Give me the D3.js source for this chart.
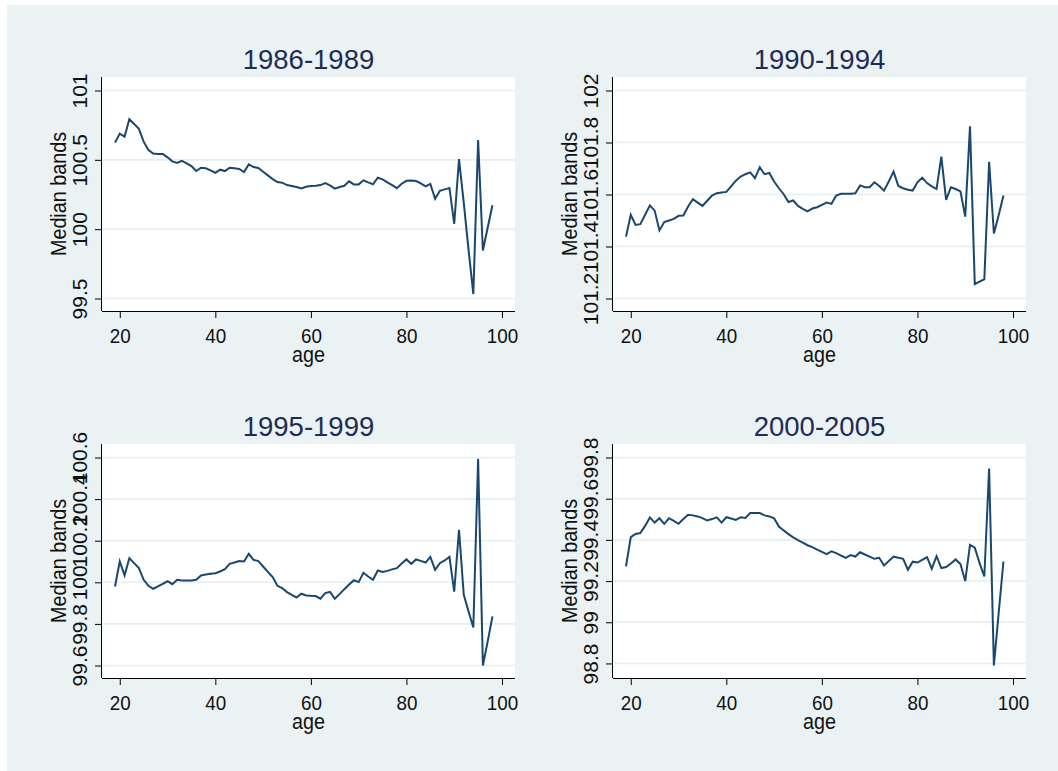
<!DOCTYPE html>
<html>
<head>
<meta charset="utf-8">
<script src="https://cdn.jsdelivr.net/npm/d3@7"></script>
<style>
    body { margin: 0; background: #fff; }
    svg { display: block; font-family: "Liberation Sans", Arial, sans-serif; }
</style>
</head>
<body>
<svg id="chart" width="1058" height="771"></svg>
<script>
/**
 * Data.
 */
const ages = d3.range(19, 99);

const periods = ['1986-1989', '1990-1994', '1995-1999', '2000-2005'];

const median1986 = [
    100.624, 100.689, 100.667, 100.793, 100.759, 100.723, 100.631, 100.571, 100.545, 100.542,
    100.542, 100.518, 100.489, 100.477, 100.492, 100.475, 100.455, 100.419, 100.443, 100.439,
    100.424, 100.407, 100.429, 100.419, 100.443, 100.439, 100.434, 100.412, 100.467, 100.448,
    100.441, 100.414, 100.388, 100.361, 100.340, 100.335, 100.318, 100.311, 100.304, 100.294,
    100.306, 100.311, 100.313, 100.318, 100.333, 100.316, 100.292, 100.304, 100.313, 100.345,
    100.323, 100.323, 100.352, 100.337, 100.323, 100.371, 100.359, 100.337, 100.318, 100.296,
    100.328, 100.349, 100.351, 100.347, 100.330, 100.308, 100.326, 100.219, 100.277, 100.287,
    100.297, 100.039, 100.505, 100.190, 99.850, 99.532, 100.643, 99.846, 100.010, 100.172
];

const median1990 = [
    101.438, 101.522, 101.483, 101.486, 101.522, 101.558, 101.538, 101.462, 101.494, 101.500,
    101.506, 101.518, 101.519, 101.554, 101.582, 101.569, 101.556, 101.576, 101.596, 101.605,
    101.608, 101.610, 101.631, 101.653, 101.669, 101.678, 101.685, 101.663, 101.705, 101.678,
    101.683, 101.650, 101.624, 101.601, 101.571, 101.577, 101.556, 101.545, 101.535, 101.546,
    101.551, 101.560, 101.569, 101.564, 101.596, 101.603, 101.603, 101.603, 101.605, 101.635,
    101.628, 101.628, 101.647, 101.633, 101.615, 101.650, 101.688, 101.633, 101.624, 101.618,
    101.615, 101.647, 101.665, 101.644, 101.631, 101.621, 101.746, 101.579, 101.628, 101.621,
    101.612, 101.515, 101.862, 101.255, 101.265, 101.274, 101.726, 101.450, 101.520, 101.596
];

const median1995 = [
    99.980, 100.100, 100.033, 100.116, 100.092, 100.068, 100.012, 99.983, 99.969, 99.980,
    99.993, 100.005, 99.991, 100.012, 100.009, 100.009, 100.009, 100.012, 100.033, 100.037,
    100.041, 100.044, 100.052, 100.063, 100.089, 100.095, 100.102, 100.100, 100.137, 100.108,
    100.102, 100.076, 100.050, 100.025, 99.983, 99.972, 99.953, 99.940, 99.927, 99.945,
    99.937, 99.935, 99.934, 99.921, 99.948, 99.954, 99.921, 99.943, 99.967, 99.989,
    100.010, 100.001, 100.046, 100.028, 100.012, 100.057, 100.050, 100.055, 100.062, 100.068,
    100.090, 100.110, 100.089, 100.110, 100.103, 100.095, 100.122, 100.060, 100.092, 100.105,
    100.122, 99.955, 100.252, 99.940, 99.860, 99.783, 100.594, 99.600, 99.715, 99.836
];

const median2000 = [
    99.271, 99.413, 99.429, 99.433, 99.468, 99.509, 99.484, 99.505, 99.478, 99.505,
    99.492, 99.478, 99.501, 99.522, 99.519, 99.514, 99.506, 99.494, 99.501, 99.509,
    99.484, 99.510, 99.504, 99.497, 99.510, 99.506, 99.530, 99.530, 99.530, 99.519,
    99.514, 99.505, 99.465, 99.446, 99.428, 99.412, 99.399, 99.387, 99.374, 99.365,
    99.353, 99.342, 99.331, 99.344, 99.336, 99.324, 99.313, 99.326, 99.319, 99.340,
    99.329, 99.319, 99.308, 99.313, 99.276, 99.297, 99.319, 99.313, 99.308, 99.255,
    99.294, 99.290, 99.303, 99.316, 99.260, 99.321, 99.263, 99.268, 99.285, 99.305,
    99.283, 99.200, 99.376, 99.362, 99.287, 99.222, 99.746, 98.790, 99.045, 99.295
];

const xTicks = [20, 40, 60, 80, 100];
const yTicks1986 = [99.5, 100, 100.5, 101];
const yTicks1990 = [101.2, 101.4, 101.6, 101.8, 102];
const yTicks1995 = [99.6, 99.8, 100, 100.2, 100.4, 100.6];
const yTicks2000 = [98.8, 99, 99.2, 99.4, 99.6, 99.8];

/**
 * One panel: median bands against age.
 */
function medianPanel() {
    /**
     * Visual configs.
     */
    let plotWidth = 413, plotHeight = 234, // Size of the white plot region
        pad = { top: 13.5, right: 13, bottom: 12.5, left: 13 }; // Gap between data range and plot edge

    const lineColor = '#1a476f',
        gridColor = '#e5eef0',
        titleColor = '#1f2c55',
        squeeze = 'scale(0.92,1)'; // Stata's labels run a little narrow

    const tickFormat = d3.format('.1~f');

    /**
     * Main entry of the module.
     */
    function module(selection) {
        selection.each(function(d) {
            const g = d3.select(this);

            const values = d.values.map((v, i) => ({ age: ages[i], value: v }));

            const x = d3.scaleLinear()
                .domain([Math.min(d3.min(ages), d3.min(xTicks)), Math.max(d3.max(ages), d3.max(xTicks))])
                .range([pad.left, plotWidth - pad.right]);
            const y = d3.scaleLinear()
                .domain([Math.min(d3.min(d.values), d3.min(d.yTicks)), Math.max(d3.max(d.values), d3.max(d.yTicks))])
                .range([plotHeight - pad.bottom, pad.top]);

            // Plot region
            g.append('rect')
                .attr('width', plotWidth)
                .attr('height', plotHeight)
                .attr('fill', '#fff');

            // Grid
            g.append('g').attr('class', 'grid')
                .selectAll('line').data(d.yTicks).join('line')
                .attr('x1', 0).attr('x2', plotWidth)
                .attr('y1', v => y(v)).attr('y2', v => y(v))
                .attr('stroke', gridColor)
                .attr('stroke-width', 1.6);

            // Axes
            const xAxis = g.append('g')
                .attr('transform', 'translate(0,' + plotHeight + ')')
                .call(d3.axisBottom(x).tickValues(xTicks).tickSize(7).tickSizeOuter(0));
            xAxis.select('.domain').attr('d', 'M0,0.5H' + plotWidth);

            const yAxis = g.append('g')
                .call(d3.axisLeft(y).tickValues(d.yTicks).tickFormat(tickFormat).tickSize(7).tickSizeOuter(0));
            yAxis.select('.domain').attr('d', 'M-0.5,0V' + plotHeight);

            g.selectAll('.domain, .tick line').attr('stroke', '#000').attr('stroke-width', 1);
            g.selectAll('.tick text')
                .attr('fill', '#111')
                .style('font-family', '"Liberation Sans", Arial, sans-serif');

            xAxis.selectAll('.tick text')
                .attr('dy', null)
                .attr('y', 32)
                .attr('transform', squeeze)
                .style('font-size', '20.5px');

            yAxis.selectAll('.tick text')
                .attr('x', null).attr('dy', null)
                .attr('text-anchor', 'middle')
                .attr('transform', 'translate(-15,0) rotate(-90)')
                .style('font-size', '21px');

            // Axis titles
            g.append('text')
                .attr('transform', 'translate(' + plotWidth / 2 + ',' + (plotHeight + 51) + ') ' + squeeze)
                .attr('text-anchor', 'middle')
                .attr('fill', '#111')
                .style('font-size', '21.5px')
                .text('age');

            g.append('text')
                .attr('transform', 'translate(-36.5,' + plotHeight / 2 + ') rotate(-90) ' + squeeze)
                .attr('text-anchor', 'middle')
                .attr('fill', '#111')
                .style('font-size', '21.5px')
                .text('Median bands');

            // Title
            g.append('text')
                .attr('x', plotWidth / 2)
                .attr('y', -7.7)
                .attr('text-anchor', 'middle')
                .attr('fill', titleColor)
                .style('font-size', '27.5px')
                .text(d.title);

            // Line
            const line = d3.line()
                .x(p => x(p.age))
                .y(p => y(p.value));

            g.append('path')
                .datum(values)
                .attr('d', line)
                .attr('fill', 'none')
                .attr('stroke', lineColor)
                .attr('stroke-width', 2)
                .attr('stroke-linejoin', 'miter');
        });
    }

    /**
     * Sets/gets the width of the plot region.
     */
    module.width = function(value) {
        if (!arguments.length) return plotWidth;
        plotWidth = value;
        return this;
    };

    /**
     * Sets/gets the height of the plot region.
     */
    module.height = function(value) {
        if (!arguments.length) return plotHeight;
        plotHeight = value;
        return this;
    };

    return module;
}

/**
 * Page.
 */
const svg = d3.select('#chart');

svg.append('rect')
    .attr('x', 7).attr('y', 5)
    .attr('width', 1058 - 7).attr('height', 771 - 5)
    .attr('fill', '#eaf2f3');

const panels = [
    { title: periods[0], values: median1986, yTicks: yTicks1986 },
    { title: periods[1], values: median1990, yTicks: yTicks1990 },
    { title: periods[2], values: median1995, yTicks: yTicks1995 },
    { title: periods[3], values: median2000, yTicks: yTicks2000 }
];

const panel = medianPanel().width(413).height(234);

svg.selectAll('.panel').data(panels).join('g')
    .attr('class', 'panel')
    .attr('transform', (d, i) => 'translate(' + (102 + (i % 2) * 511) + ',' + (77 + Math.floor(i / 2) * 367) + ')')
    .call(panel);
</script>
</body>
</html>
